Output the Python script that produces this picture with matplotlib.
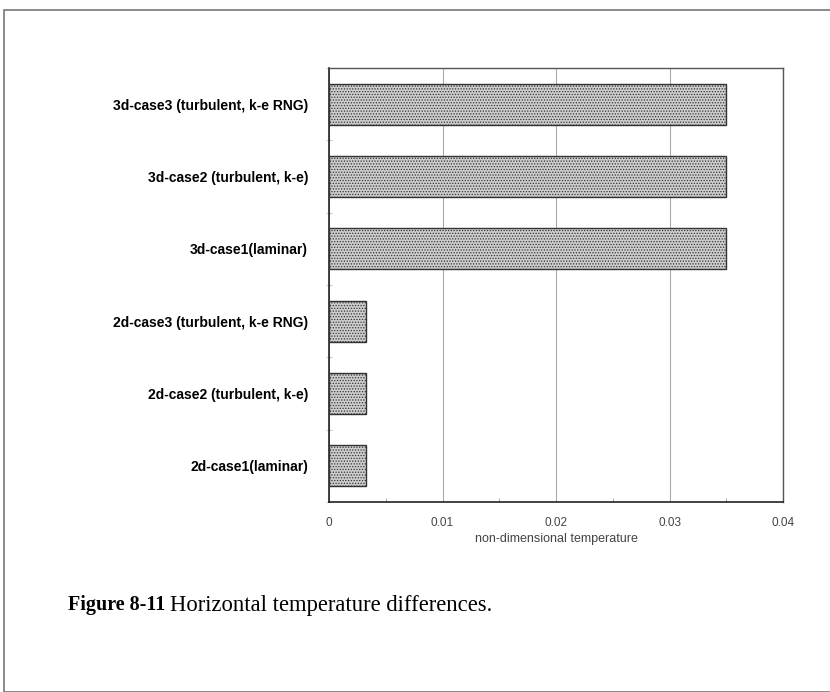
import matplotlib.pyplot as plt
from matplotlib.patches import Rectangle
from matplotlib.ticker import MultipleLocator
import numpy as np

# Data (bottom to top)
cases = ['2d-case1(laminar)', '2d-case2 (turbulent, k-e)', '2d-case3 (turbulent, k-e RNG)',
         '3d-case1(laminar)', '3d-case2 (turbulent, k-e)', '3d-case3 (turbulent, k-e RNG)']
temp_diff = [0.0033, 0.0033, 0.0033, 0.035, 0.035, 0.035]
x_ticks = [0, 0.01, 0.02, 0.03, 0.04]
x_tick_labels = ['0', '0.01', '0.02', '0.03', '0.04']

fig = plt.figure(figsize=(8.3, 6.92), dpi=100)

# Outer frame of the scanned page
fig.patches.append(Rectangle((4 / 830, 0), 1, 1 - 10 / 692, transform=fig.transFigure,
                             fill=False, edgecolor='#777777', linewidth=1.2))

ax = fig.add_axes([329 / 830, 1 - 502 / 692, 454 / 830, 434 / 692])

y = np.arange(len(cases))
plt.rcParams['hatch.color'] = '#8a8a8a'
plt.rcParams['hatch.linewidth'] = 0.6
ax.barh(y, temp_diff, height=0.57, color='#cdcdcd', edgecolor='#333333',
        linewidth=1.0, hatch='......', zorder=3)

ax.set_xlim(0, 0.04)
ax.set_ylim(-0.5, len(cases) - 0.5)
ax.set_xticks(x_ticks)
ax.set_xticklabels(x_tick_labels, fontsize=8.5, color='#444444', family='Liberation Sans')
ax.xaxis.set_minor_locator(MultipleLocator(0.005))
ax.set_yticks(y)
ax.set_yticklabels(cases, fontsize=10, fontweight='bold', family='Liberation Sans')
ax.set_yticks(np.arange(-0.5, len(cases), 1.0), minor=True)

ax.tick_params(axis='y', which='major', length=0, pad=15)
ax.tick_params(axis='y', which='minor', length=5, color='#bbbbbb', direction='inout')
ax.tick_params(axis='x', which='major', length=0, pad=11)
ax.tick_params(axis='x', which='minor', length=3, color='#999999', direction='in')

ax.set_xlabel('non-dimensional temperature', fontsize=9, color='#444444',
              family='Liberation Sans', labelpad=3)

ax.grid(axis='x', which='major', color='#aaaaaa', linewidth=0.8, zorder=0)
for side in ['top', 'right']:
    ax.spines[side].set_color('#555555')
    ax.spines[side].set_linewidth(1.0)
for side in ['left', 'bottom']:
    ax.spines[side].set_color('#222222')
    ax.spines[side].set_linewidth(1.2)

# Caption below the chart
cap_y = 1 - 605 / 692
t1 = fig.text(68 / 830, cap_y, 'Figure 8-11', fontsize=14.5, fontweight='bold',
              family='Liberation Serif', va='center', ha='left')
renderer = fig.canvas.get_renderer()
bb = t1.get_window_extent(renderer)
fig.text((bb.x1 + 5) / 830, cap_y, 'Horizontal temperature differences.', fontsize=16.3,
         family='Liberation Serif', va='center', ha='left')

fig.savefig('out.png', dpi=100)
